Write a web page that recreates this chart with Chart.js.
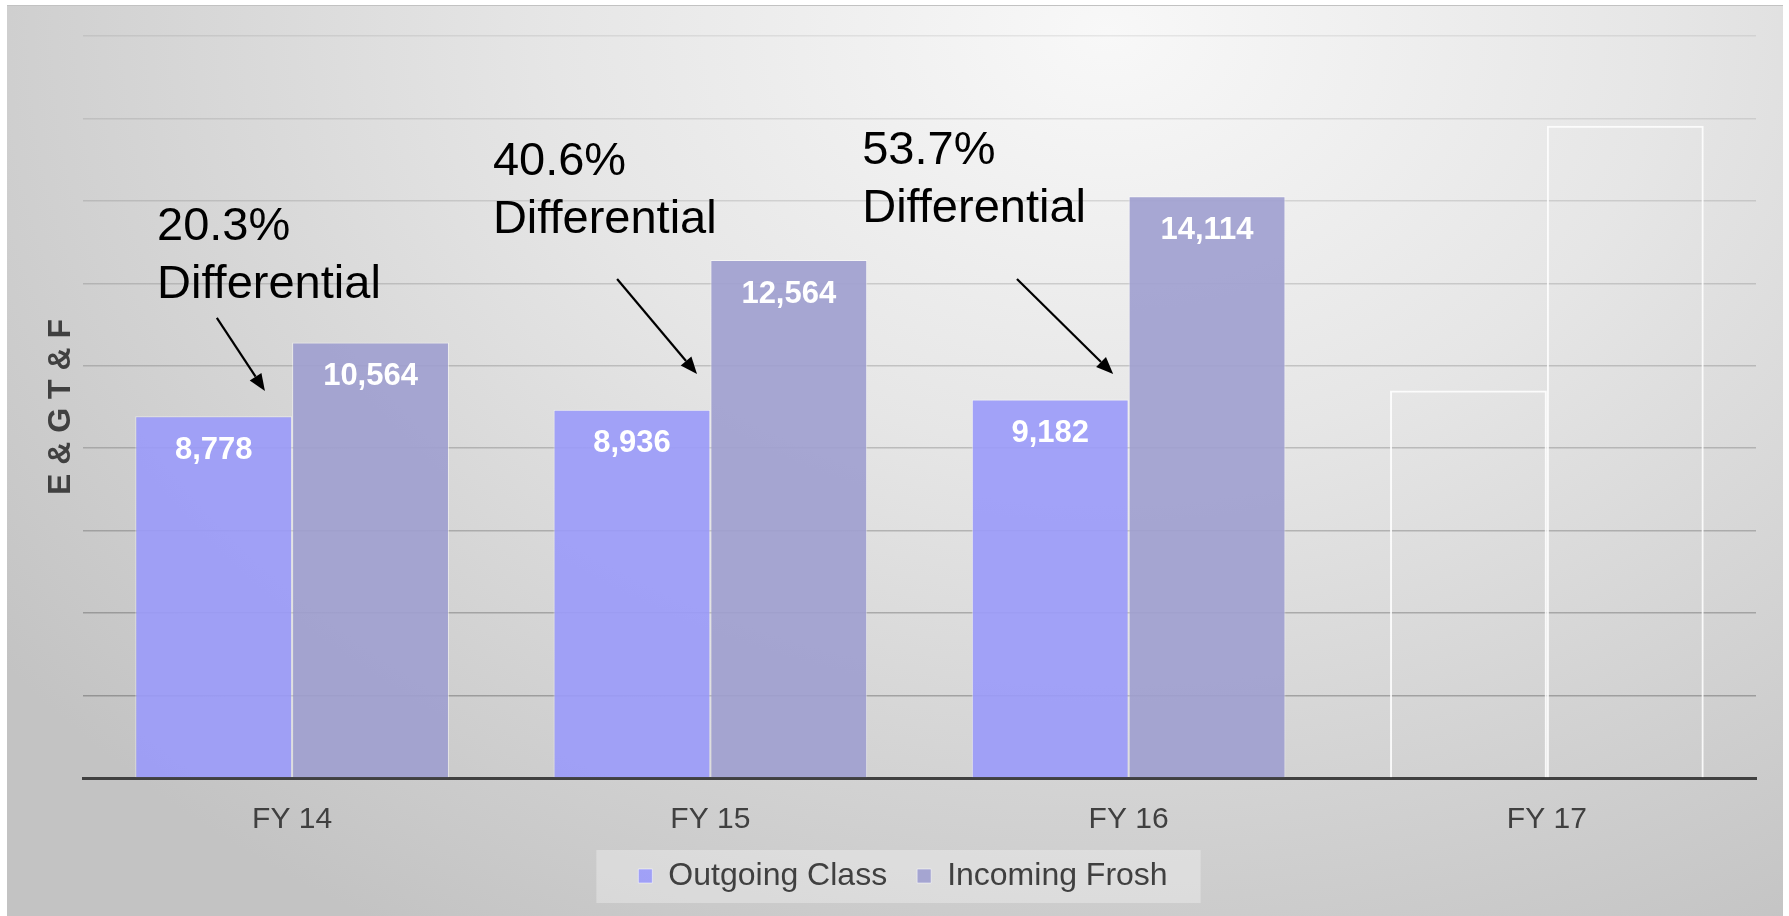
<!DOCTYPE html>
<html lang="en">
<head>
  <meta charset="UTF-8">
  <title>Outgoing Class vs Incoming Frosh</title>
  <script src="https://cdn.jsdelivr.net/npm/chart.js"></script>
  <style>
    html, body { margin: 0; padding: 0; background: #fff; }
    #frame {
      position: absolute;
      left: 7px;
      top: 5px;
      width: 1776px;
      height: 910px;
      border-top: 1px solid #c2c2c2;
      background: radial-gradient(ellipse 78% 115% at 62% 3%, #f8f8f8 0%, #e6e6e6 40%, #c3c3c3 100%);
    }
  </style>
</head>
<body>
  <div id="frame"><canvas id="enrollChart"></canvas></div>

  <script>
    const years = ['FY 14', 'FY 15', 'FY 16', 'FY 17'];
    const outgoing = [8778, 8936, 9182, 9400];
    const incoming = [10564, 12564, 14114, 15820];
    const seriesNames = ['Outgoing Class', 'Incoming Frosh'];
    const yAxisTitle = 'E & G T & F';
    const diffText = ['20.3%', '40.6%', '53.7%'];
    const firstPlaceholder = 3; // FY 17 is only an empty outline, no labels

    // callout spots: x in category widths from the category centre, y in axis units
    const callouts = [
      { cat: 0, text: { x: -0.323, y: 13050 }, from: { x: -0.180, y: 11160 }, to: { x: -0.065, y: 9390 } },
      { cat: 1, text: { x: -0.520, y: 14630 }, from: { x: -0.223, y: 12105 }, to: { x: -0.032, y: 9800 } },
      { cat: 2, text: { x: -0.637, y: 14895 }, from: { x: -0.267, y: 12105 }, to: { x: -0.037, y: 9800 } },
    ];

    const FONT = "'Liberation Sans', Arial, sans-serif";
    Chart.defaults.font.family = FONT;

    function catX(chart, cat, off) {
      const x = chart.scales.x;
      const step = x.getPixelForValue(1) - x.getPixelForValue(0);
      return x.getPixelForValue(cat) + off * step;
    }

    function barFill(color) {
      return c => c.dataIndex >= firstPlaceholder ? 'rgba(0,0,0,0)' : color;
    }

    const legendBox = {
      id: 'legendBox',
      afterLayout(chart) {
        // x axis is squeezed in afterFit; let its labels draw past that box
        const x = chart.scales.x;
        x.bottom = x.top + 90;
      },
      beforeDraw(chart) {
        const lg = chart.legend;
        if (!lg || !lg.legendHitBoxes) return;
        const p = lg.options.labels.padding;
        const widths = lg.legendHitBoxes.map(b => b.width);
        const total = widths.reduce((a, b) => a + b, 0) + p * (widths.length - 1);
        const start = (lg.left + lg.right) / 2 - total / 2;
        const mid = lg.top + p + lg.legendHitBoxes[0].height / 2;
        const ctx = chart.ctx;
        ctx.save();
        ctx.fillStyle = 'rgba(255,255,255,0.3)';
        ctx.fillRect(start - 42, mid - 26, total + 75, 53);
        ctx.restore();
      }
    };

    const barText = {
      id: 'barText',
      afterDatasetsDraw(chart) {
        const ctx = chart.ctx;
        ctx.save();

        // values inside the bars
        ctx.font = 'bold 31px ' + FONT;
        ctx.fillStyle = '#ffffff';
        ctx.textAlign = 'center';
        ctx.textBaseline = 'middle';
        chart.data.datasets.forEach((ds, di) => {
          chart.getDatasetMeta(di).data.forEach((bar, i) => {
            if (i >= firstPlaceholder) return;
            ctx.fillText(ds.data[i].toLocaleString('en-US'), bar.x, bar.y + 34);
          });
        });

        // differential callouts
        const y = chart.scales.y;
        ctx.fillStyle = '#000';
        ctx.strokeStyle = '#000';
        ctx.font = '47px ' + FONT;
        ctx.textAlign = 'left';
        ctx.textBaseline = 'alphabetic';
        callouts.forEach((c, i) => {
          const tx = catX(chart, c.cat, c.text.x);
          const ty = y.getPixelForValue(c.text.y);
          ctx.fillText(diffText[i], tx, ty);
          ctx.fillText('Differential', tx, ty + 58);

          const x1 = catX(chart, c.cat, c.from.x), y1 = y.getPixelForValue(c.from.y);
          const x2 = catX(chart, c.cat, c.to.x), y2 = y.getPixelForValue(c.to.y);
          const ang = Math.atan2(y2 - y1, x2 - x1);
          const head = 17, half = 7;
          const bx = x2 - head * Math.cos(ang), by = y2 - head * Math.sin(ang);
          ctx.lineWidth = 2.2;
          ctx.beginPath();
          ctx.moveTo(x1, y1);
          ctx.lineTo(bx, by);
          ctx.stroke();
          ctx.beginPath();
          ctx.moveTo(x2, y2);
          ctx.lineTo(bx + half * Math.sin(ang), by - half * Math.cos(ang));
          ctx.lineTo(bx - half * Math.sin(ang), by + half * Math.cos(ang));
          ctx.closePath();
          ctx.fill();
        });
        ctx.restore();
      }
    };

    new Chart(document.getElementById('enrollChart'), {
      type: 'bar',
      data: {
        labels: years,
        datasets: [
          {
            label: seriesNames[0],
            data: outgoing,
            backgroundColor: barFill('rgba(154,154,250,0.9)'),
            borderColor: c => c.dataIndex >= firstPlaceholder ? 'rgba(255,255,255,0.85)' : 'rgba(255,255,255,0.5)',
            borderWidth: c => c.dataIndex >= firstPlaceholder ? 2 : 1,
          },
          {
            label: seriesNames[1],
            data: incoming,
            backgroundColor: barFill('rgba(158,158,207,0.9)'),
            borderColor: c => c.dataIndex >= firstPlaceholder ? 'rgba(255,255,255,0.85)' : 'rgba(255,255,255,0.5)',
            borderWidth: c => c.dataIndex >= firstPlaceholder ? 2 : 1,
          },
        ],
      },
      options: {
        responsive: true,
        maintainAspectRatio: false,
        animation: false,
        categoryPercentage: 0.75,
        barPercentage: 1.0,
        layout: { padding: { left: 43, right: 27, top: 30, bottom: 14 } },
        plugins: {
          tooltip: { enabled: false },
          legend: {
            position: 'bottom',
            labels: {
              boxWidth: 14,
              boxHeight: 14,
              padding: 30,
              color: '#404040',
              font: { size: 32 },
            },
          },
        },
        scales: {
          x: {
            grid: { display: false },
            border: { color: '#404040', width: 3 },
            ticks: { color: '#404040', padding: 21, font: { size: 30, lineHeight: '26px' } },
            afterFit: scale => { scale.height = 52; },
          },
          y: {
            min: 0,
            max: 18000,
            ticks: { display: false, stepSize: 2000 },
            border: { display: false },
            grid: {
              drawTicks: false,
              lineWidth: 1.5,
              color: c => 'rgba(0,0,0,' + (0.27 - 0.2 * c.tick.value / 18000).toFixed(3) + ')',
            },
            title: {
              display: true,
              text: yAxisTitle,
              color: '#404040',
              font: { size: 32, weight: 'bold', lineHeight: '1px' },
              padding: { top: 10.5, bottom: 21.5 },
            },
          },
        },
      },
      plugins: [legendBox, barText],
    });
  </script>
</body>
</html>
